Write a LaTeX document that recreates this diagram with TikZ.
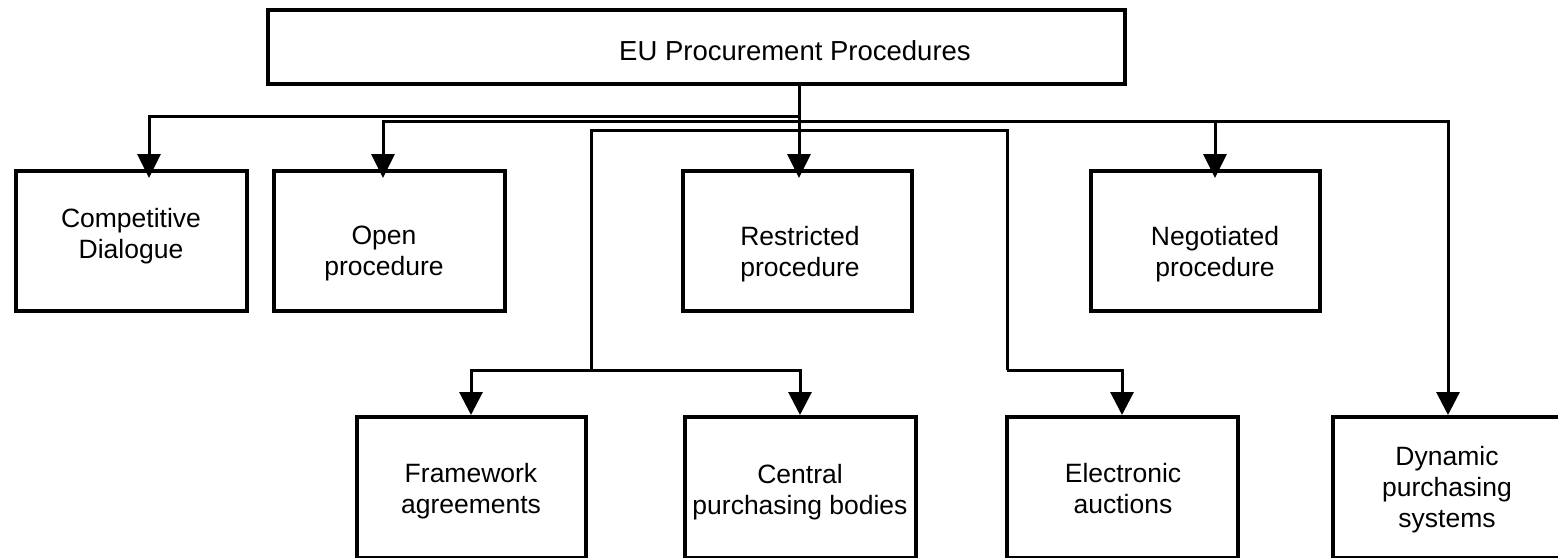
\documentclass[tikz,border=0pt]{standalone}
\usepackage{fontspec}
\setmainfont{Liberation Sans}
\usetikzlibrary{arrows.meta}

\begin{document}
\begin{tikzpicture}[
  x=1pt, y=-1pt,
  box/.style={draw, line width=4pt, rectangle, inner sep=0pt, outer sep=0pt},
  label text/.style={inner sep=0pt, align=center, font=\fontsize{26.5}{31}\selectfont},
  conn/.style={line width=3pt},
  tipin/.style={conn, -{Triangle[width=23pt,length=24pt]}, shorten >=-7pt},
  tipon/.style={conn, -{Triangle[width=23pt,length=23pt]}, shorten >=2pt}
]
\useasboundingbox (0,0) rectangle (1558,557);

% root box
\node[box, minimum width=857pt, minimum height=74pt] (root) at (696,46.5) {};
\node[label text, font=\fontsize{27.5}{31}\selectfont, anchor=base] (t-root) at (795,60) {EU Procurement Procedures};

% first row of procedures
\node[box, minimum width=231pt, minimum height=140pt] (cd) at (131,241) {};
\node[box, minimum width=231pt, minimum height=140pt] (op) at (389,241) {};
\node[box, minimum width=229pt, minimum height=140pt] (rp) at (797,241) {};
\node[box, minimum width=229pt, minimum height=140pt] (np) at (1205,241) {};

\node[label text] (t-cd) at (131,235.7) {Competitive\\Dialogue};
\node[label text] (t-op) at (384,253.7) {Open\\procedure};
\node[label text] (t-rp) at (800,253.7) {Restricted\\procedure};
\node[label text] (t-np) at (1215,253.7) {Negotiated\\procedure};

% second row of instruments
\node[box, minimum width=229pt, minimum height=141pt] (fa) at (471,487.5) {};
\node[box, minimum width=231pt, minimum height=141pt] (cp) at (800,487.5) {};
\node[box, minimum width=231pt, minimum height=141pt] (ea) at (1122,487.5) {};
\node[box, minimum width=231pt, minimum height=141pt] (dp) at (1448,487.5) {};

\node[label text] (t-fa) at (471,491.5) {Framework\\agreements};
\node[label text] (t-cp) at (800,491.7) {Central\\purchasing bodies};
\node[label text] (t-ea) at (1123,488.9) {Electronic\\auctions};
\node[label text] (t-dp) at (1447,489.5) {Dynamic\\purchasing\\systems};

% entry points of the arrows on the first row
\coordinate (cdIn) at ([xshift=18pt]cd.north);
\coordinate (opIn) at ([xshift=-6pt]op.north);
\coordinate (rpIn) at ([xshift=2pt]rp.north);
\coordinate (npIn) at ([xshift=10pt]np.north);

% levels of the horizontal buses and columns of the drops
\coordinate (busA) at (0,116);
\coordinate (busB) at (0,121);
\coordinate (busC) at (0,130);
\coordinate (busD) at (0,370);
\coordinate (colL) at (591,0);
\coordinate (colR) at (1007,0);

% trunk
\draw[tipin] (root.south -| rpIn) -- (rpIn);

% bus A: competitive dialogue
\draw[tipin] (rpIn |- busA) -| (cdIn);

% bus B: open, negotiated, dynamic purchasing
\draw[tipin] (rpIn |- busB) -| (opIn);
\draw[tipon] (rpIn |- busB) -| (dp.north);
\draw[tipin] (npIn |- busB) -- (npIn);

% bus C: framework, central purchasing, electronic auctions
\draw[conn] (colR |- busD) -- (colR |- busC) -- (colL |- busC) -- (colL |- busD);
\draw[tipon] (colL |- busD) -| (fa.north);
\draw[tipon] (colL |- busD) -| (cp.north);
\draw[tipon] (colR |- busD) -| (ea.north);
\end{tikzpicture}
\end{document}
